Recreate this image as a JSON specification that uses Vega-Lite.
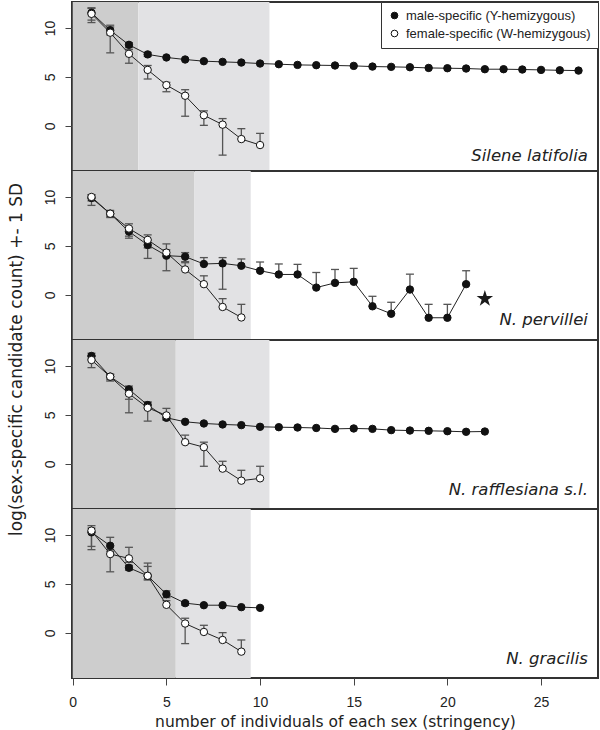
{
  "$schema": "https://vega.github.io/schema/vega-lite/v6.json",
  "padding": {"left": 5, "top": 0, "right": 0, "bottom": 0},
  "bounds": "flush",
  "spacing": 0,
  "config": {
    "view": {"stroke": "#333", "strokeWidth": 2},
    "axis": {"domain": false, "grid": false, "tickSize": 7, "tickColor": "#444", "labelFont": "Liberation Sans", "labelFontSize": 14, "labelColor": "#222", "titleFont": "DejaVu Sans", "titleFontSize": 15.5, "titleFontWeight": "normal", "titleColor": "#222"}
  },
  "resolve": {"legend": {"fill": "independent"}, "scale": {"fill": "independent"}},
  "datasets": {
    "shade": [
      {"p": 1, "zone": "dark", "x0": 0, "x1": 3.5}, {"p": 1, "zone": "light", "x0": 3.5, "x1": 10.5},
      {"p": 2, "zone": "dark", "x0": 0, "x1": 6.5}, {"p": 2, "zone": "light", "x0": 6.5, "x1": 9.5},
      {"p": 3, "zone": "dark", "x0": 0, "x1": 5.5}, {"p": 3, "zone": "light", "x0": 5.5, "x1": 10.5},
      {"p": 4, "zone": "dark", "x0": 0, "x1": 5.5}, {"p": 4, "zone": "light", "x0": 5.5, "x1": 9.5}
    ],
    "labels": [
      {"p": 1, "label": "Silene latifolia", "x": 27.5, "y": -3.6},
      {"p": 2, "label": "N. pervillei", "x": 27.5, "y": -3.1},
      {"p": 3, "label": "N. rafflesiana s.l.", "x": 27.5, "y": -3.15},
      {"p": 4, "label": "N. gracilis", "x": 27.5, "y": -3.2}
    ],
    "star": [{"p": 2, "x": 22, "y": -0.38}],
    "pts": [
      {"p": 1, "sex": "M", "x": 1, "y": 11.55, "hi": 12.0, "lo": 10.8},
      {"p": 1, "sex": "M", "x": 2, "y": 9.76, "hi": 10.1, "lo": 9.3},
      {"p": 1, "sex": "M", "x": 3, "y": 8.28, "hi": 8.5, "lo": 8.0},
      {"p": 1, "sex": "M", "x": 4, "y": 7.3, "hi": 7.5, "lo": 7.1},
      {"p": 1, "sex": "M", "x": 5, "y": 6.99, "hi": null, "lo": null},
      {"p": 1, "sex": "M", "x": 6, "y": 6.78, "hi": null, "lo": null},
      {"p": 1, "sex": "M", "x": 7, "y": 6.61, "hi": null, "lo": null},
      {"p": 1, "sex": "M", "x": 8, "y": 6.54, "hi": null, "lo": null},
      {"p": 1, "sex": "M", "x": 9, "y": 6.47, "hi": null, "lo": null},
      {"p": 1, "sex": "M", "x": 10, "y": 6.37, "hi": null, "lo": null},
      {"p": 1, "sex": "M", "x": 11, "y": 6.3, "hi": null, "lo": null},
      {"p": 1, "sex": "M", "x": 12, "y": 6.23, "hi": null, "lo": null},
      {"p": 1, "sex": "M", "x": 13, "y": 6.2, "hi": null, "lo": null},
      {"p": 1, "sex": "M", "x": 14, "y": 6.17, "hi": null, "lo": null},
      {"p": 1, "sex": "M", "x": 15, "y": 6.13, "hi": null, "lo": null},
      {"p": 1, "sex": "M", "x": 16, "y": 6.06, "hi": null, "lo": null},
      {"p": 1, "sex": "M", "x": 17, "y": 6.03, "hi": null, "lo": null},
      {"p": 1, "sex": "M", "x": 18, "y": 5.99, "hi": null, "lo": null},
      {"p": 1, "sex": "M", "x": 19, "y": 5.92, "hi": null, "lo": null},
      {"p": 1, "sex": "M", "x": 20, "y": 5.89, "hi": null, "lo": null},
      {"p": 1, "sex": "M", "x": 21, "y": 5.86, "hi": null, "lo": null},
      {"p": 1, "sex": "M", "x": 22, "y": 5.79, "hi": null, "lo": null},
      {"p": 1, "sex": "M", "x": 23, "y": 5.79, "hi": null, "lo": null},
      {"p": 1, "sex": "M", "x": 24, "y": 5.76, "hi": null, "lo": null},
      {"p": 1, "sex": "M", "x": 25, "y": 5.72, "hi": null, "lo": null},
      {"p": 1, "sex": "M", "x": 26, "y": 5.68, "hi": null, "lo": null},
      {"p": 1, "sex": "M", "x": 27, "y": 5.65, "hi": null, "lo": null},
      {"p": 1, "sex": "F", "x": 1, "y": 11.44, "hi": 12.06, "lo": 10.55},
      {"p": 1, "sex": "F", "x": 2, "y": 9.52, "hi": 10.28, "lo": 7.46},
      {"p": 1, "sex": "F", "x": 3, "y": 7.36, "hi": 7.8, "lo": 6.4},
      {"p": 1, "sex": "F", "x": 4, "y": 5.72, "hi": 6.17, "lo": 4.79},
      {"p": 1, "sex": "F", "x": 5, "y": 4.17, "hi": 4.45, "lo": 3.49},
      {"p": 1, "sex": "F", "x": 6, "y": 3.08, "hi": 3.7, "lo": 0.99},
      {"p": 1, "sex": "F", "x": 7, "y": 1.09, "hi": 1.54, "lo": 0.06},
      {"p": 1, "sex": "F", "x": 8, "y": 0.13, "hi": 0.75, "lo": -2.98},
      {"p": 1, "sex": "F", "x": 9, "y": -1.34, "hi": -0.28, "lo": null},
      {"p": 1, "sex": "F", "x": 10, "y": -1.95, "hi": -0.76, "lo": null},
      {"p": 2, "sex": "M", "x": 1, "y": 9.9, "hi": 10.24, "lo": 9.14},
      {"p": 2, "sex": "M", "x": 2, "y": 8.29, "hi": 8.63, "lo": 7.9},
      {"p": 2, "sex": "M", "x": 3, "y": 6.47, "hi": 6.9, "lo": 5.79},
      {"p": 2, "sex": "M", "x": 4, "y": 5.1, "hi": 5.6, "lo": 3.73},
      {"p": 2, "sex": "M", "x": 5, "y": 4.01, "hi": 5.21, "lo": 2.47},
      {"p": 2, "sex": "M", "x": 6, "y": 3.91, "hi": 4.32, "lo": 3.4},
      {"p": 2, "sex": "M", "x": 7, "y": 3.16, "hi": 3.81, "lo": null},
      {"p": 2, "sex": "M", "x": 8, "y": 3.22, "hi": 3.81, "lo": 0.58},
      {"p": 2, "sex": "M", "x": 9, "y": 2.98, "hi": 3.67, "lo": null},
      {"p": 2, "sex": "M", "x": 10, "y": 2.47, "hi": 3.36, "lo": null},
      {"p": 2, "sex": "M", "x": 11, "y": 2.09, "hi": 3.16, "lo": null},
      {"p": 2, "sex": "M", "x": 12, "y": 2.09, "hi": 3.12, "lo": null},
      {"p": 2, "sex": "M", "x": 13, "y": 0.75, "hi": 2.29, "lo": null},
      {"p": 2, "sex": "M", "x": 14, "y": 1.23, "hi": 2.6, "lo": null},
      {"p": 2, "sex": "M", "x": 15, "y": 1.34, "hi": 2.71, "lo": null},
      {"p": 2, "sex": "M", "x": 16, "y": -1.16, "hi": -0.14, "lo": null},
      {"p": 2, "sex": "M", "x": 17, "y": -1.92, "hi": -0.75, "lo": null},
      {"p": 2, "sex": "M", "x": 18, "y": 0.55, "hi": 2.12, "lo": null},
      {"p": 2, "sex": "M", "x": 19, "y": -2.33, "hi": -0.96, "lo": null},
      {"p": 2, "sex": "M", "x": 20, "y": -2.33, "hi": -0.96, "lo": null},
      {"p": 2, "sex": "M", "x": 21, "y": 1.1, "hi": 2.47, "lo": null},
      {"p": 2, "sex": "F", "x": 1, "y": 10.0, "hi": 10.2, "lo": 9.6},
      {"p": 2, "sex": "F", "x": 2, "y": 8.29, "hi": 8.5, "lo": 8.0},
      {"p": 2, "sex": "F", "x": 3, "y": 6.78, "hi": 7.26, "lo": 6.0},
      {"p": 2, "sex": "F", "x": 4, "y": 5.62, "hi": 6.13, "lo": 4.8},
      {"p": 2, "sex": "F", "x": 5, "y": 4.32, "hi": 4.6, "lo": 3.9},
      {"p": 2, "sex": "F", "x": 6, "y": 2.6, "hi": 3.29, "lo": null},
      {"p": 2, "sex": "F", "x": 7, "y": 1.1, "hi": 1.95, "lo": null},
      {"p": 2, "sex": "F", "x": 8, "y": -1.23, "hi": -0.38, "lo": null},
      {"p": 2, "sex": "F", "x": 9, "y": -2.3, "hi": -0.96, "lo": null},
      {"p": 3, "sex": "M", "x": 1, "y": 11.02, "hi": 11.3, "lo": 10.7},
      {"p": 3, "sex": "M", "x": 2, "y": 8.91, "hi": 9.15, "lo": 8.6},
      {"p": 3, "sex": "M", "x": 3, "y": 7.61, "hi": 7.95, "lo": 6.6},
      {"p": 3, "sex": "M", "x": 4, "y": 6.01, "hi": 6.31, "lo": 5.7},
      {"p": 3, "sex": "M", "x": 5, "y": 4.71, "hi": 5.0, "lo": 4.5},
      {"p": 3, "sex": "M", "x": 6, "y": 4.3, "hi": null, "lo": null},
      {"p": 3, "sex": "M", "x": 7, "y": 4.13, "hi": null, "lo": null},
      {"p": 3, "sex": "M", "x": 8, "y": 4.03, "hi": null, "lo": null},
      {"p": 3, "sex": "M", "x": 9, "y": 3.96, "hi": null, "lo": null},
      {"p": 3, "sex": "M", "x": 10, "y": 3.79, "hi": null, "lo": null},
      {"p": 3, "sex": "M", "x": 11, "y": 3.75, "hi": null, "lo": null},
      {"p": 3, "sex": "M", "x": 12, "y": 3.72, "hi": null, "lo": null},
      {"p": 3, "sex": "M", "x": 13, "y": 3.67, "hi": null, "lo": null},
      {"p": 3, "sex": "M", "x": 14, "y": 3.58, "hi": null, "lo": null},
      {"p": 3, "sex": "M", "x": 15, "y": 3.62, "hi": null, "lo": null},
      {"p": 3, "sex": "M", "x": 16, "y": 3.58, "hi": null, "lo": null},
      {"p": 3, "sex": "M", "x": 17, "y": 3.45, "hi": null, "lo": null},
      {"p": 3, "sex": "M", "x": 18, "y": 3.41, "hi": null, "lo": null},
      {"p": 3, "sex": "M", "x": 19, "y": 3.38, "hi": null, "lo": null},
      {"p": 3, "sex": "M", "x": 20, "y": 3.34, "hi": null, "lo": null},
      {"p": 3, "sex": "M", "x": 21, "y": 3.28, "hi": null, "lo": null},
      {"p": 3, "sex": "M", "x": 22, "y": 3.31, "hi": null, "lo": null},
      {"p": 3, "sex": "F", "x": 1, "y": 10.61, "hi": 11.0, "lo": 9.83},
      {"p": 3, "sex": "F", "x": 2, "y": 8.91, "hi": 9.15, "lo": 8.46},
      {"p": 3, "sex": "F", "x": 3, "y": 7.17, "hi": 7.5, "lo": 5.22},
      {"p": 3, "sex": "F", "x": 4, "y": 5.73, "hi": 6.31, "lo": 4.37},
      {"p": 3, "sex": "F", "x": 5, "y": 4.95, "hi": 5.67, "lo": 4.5},
      {"p": 3, "sex": "F", "x": 6, "y": 2.22, "hi": 2.94, "lo": null},
      {"p": 3, "sex": "F", "x": 7, "y": 1.71, "hi": 2.22, "lo": -0.24},
      {"p": 3, "sex": "F", "x": 8, "y": -0.48, "hi": 0.27, "lo": null},
      {"p": 3, "sex": "F", "x": 9, "y": -1.71, "hi": -0.65, "lo": null},
      {"p": 3, "sex": "F", "x": 10, "y": -1.47, "hi": -0.24, "lo": null},
      {"p": 4, "sex": "M", "x": 1, "y": 10.27, "hi": 10.7, "lo": 8.5},
      {"p": 4, "sex": "M", "x": 2, "y": 8.9, "hi": 9.76, "lo": 8.3},
      {"p": 4, "sex": "M", "x": 3, "y": 6.65, "hi": 6.9, "lo": 6.4},
      {"p": 4, "sex": "M", "x": 4, "y": 5.83, "hi": 6.79, "lo": 5.5},
      {"p": 4, "sex": "M", "x": 5, "y": 3.96, "hi": 4.3, "lo": 3.6},
      {"p": 4, "sex": "M", "x": 6, "y": 3.04, "hi": 3.2, "lo": 2.83},
      {"p": 4, "sex": "M", "x": 7, "y": 2.83, "hi": null, "lo": null},
      {"p": 4, "sex": "M", "x": 8, "y": 2.83, "hi": null, "lo": null},
      {"p": 4, "sex": "M", "x": 9, "y": 2.63, "hi": null, "lo": null},
      {"p": 4, "sex": "M", "x": 10, "y": 2.56, "hi": null, "lo": null},
      {"p": 4, "sex": "F", "x": 1, "y": 10.44, "hi": 10.95, "lo": 8.83},
      {"p": 4, "sex": "F", "x": 2, "y": 8.05, "hi": 8.5, "lo": 6.24},
      {"p": 4, "sex": "F", "x": 3, "y": 7.61, "hi": 8.74, "lo": 7.2},
      {"p": 4, "sex": "F", "x": 4, "y": 5.83, "hi": 7.13, "lo": 5.4},
      {"p": 4, "sex": "F", "x": 5, "y": 2.87, "hi": 3.3, "lo": null},
      {"p": 4, "sex": "F", "x": 6, "y": 0.96, "hi": 1.5, "lo": -1.09},
      {"p": 4, "sex": "F", "x": 7, "y": 0.1, "hi": 0.78, "lo": null},
      {"p": 4, "sex": "F", "x": 8, "y": -0.72, "hi": 0.03, "lo": null},
      {"p": 4, "sex": "F", "x": 9, "y": -1.91, "hi": -0.72, "lo": null}
    ]
  },
  "vconcat": [
    {
      "width": 526, "height": 169,
      "layer": [
        {"data": {"name": "shade"}, "transform": [{"filter": "datum.p == 1 && datum.zone == 'dark'"}], "mark": {"type": "rect", "color": "#cdcdcd"},
         "encoding": {"x": {"field": "x0", "type": "quantitative", "scale": {"domain": [-0.04, 28.04], "nice": false, "zero": false}, "axis": null}, "x2": {"field": "x1"}}},
        {"data": {"name": "shade"}, "transform": [{"filter": "datum.p == 1 && datum.zone == 'light'"}], "mark": {"type": "rect", "color": "#e2e2e4"},
         "encoding": {"x": {"field": "x0", "type": "quantitative"}, "x2": {"field": "x1"}}},
        {"data": {"name": "pts"}, "transform": [{"filter": "datum.p == 1 && isValid(datum.hi)"}], "mark": {"type": "rule", "color": "#555", "strokeWidth": 1.3},
         "encoding": {"x": {"field": "x", "type": "quantitative"}, "y": {"field": "y", "type": "quantitative", "scale": {"domain": [-4.6, 12.65], "nice": false, "zero": false}, "axis": {"values": [0, 5, 10], "labelAngle": 270, "labelAlign": "center", "labelBaseline": "alphabetic", "labelPadding": 11, "title": null}}, "y2": {"field": "hi"}}},
        {"data": {"name": "pts"}, "transform": [{"filter": "datum.p == 1 && isValid(datum.lo)"}], "mark": {"type": "rule", "color": "#555", "strokeWidth": 1.3},
         "encoding": {"x": {"field": "x", "type": "quantitative"}, "y": {"field": "lo", "type": "quantitative"}, "y2": {"field": "y"}}},
        {"data": {"name": "pts"}, "transform": [{"filter": "datum.p == 1 && isValid(datum.hi)"}], "mark": {"type": "tick", "orient": "horizontal", "size": 8, "thickness": 1.3, "color": "#555", "opacity": 1},
         "encoding": {"x": {"field": "x", "type": "quantitative"}, "y": {"field": "hi", "type": "quantitative"}}},
        {"data": {"name": "pts"}, "transform": [{"filter": "datum.p == 1 && isValid(datum.lo)"}], "mark": {"type": "tick", "orient": "horizontal", "size": 8, "thickness": 1.3, "color": "#555", "opacity": 1},
         "encoding": {"x": {"field": "x", "type": "quantitative"}, "y": {"field": "lo", "type": "quantitative"}}},
        {"data": {"name": "pts"}, "transform": [{"filter": "datum.p == 1"}], "mark": {"type": "line", "color": "#222", "strokeWidth": 1},
         "encoding": {"x": {"field": "x", "type": "quantitative"}, "y": {"field": "y", "type": "quantitative"}, "detail": {"field": "sex"}}},
        {"data": {"name": "pts"}, "transform": [{"filter": "datum.p == 1"}], "mark": {"type": "circle", "size": 55, "stroke": "#111", "strokeWidth": 1, "opacity": 1},
         "encoding": {"x": {"field": "x", "type": "quantitative"}, "y": {"field": "y", "type": "quantitative"},
           "fill": {"field": "sex", "type": "nominal", "scale": {"domain": ["M", "F"], "range": ["#111111", "#ffffff"]},
             "legend": {"orient": "top-right", "title": null, "offset": 0, "padding": 7, "strokeColor": "#333", "fillColor": "#ffffff", "cornerRadius": 0, "rowPadding": 4, "symbolType": "circle", "symbolSize": 45, "symbolStrokeColor": "#111", "symbolStrokeWidth": 1, "labelFont": "Liberation Sans", "labelFontSize": 13, "labelColor": "#222", "labelOffset": 5, "labelLimit": 300,
               "labelExpr": "datum.label == 'M' ? 'male-specific (Y-hemizygous)' : 'female-specific (W-hemizygous)'"}}}},
        {"data": {"name": "labels"}, "transform": [{"filter": "datum.p == 1"}], "mark": {"type": "text", "font": "DejaVu Sans", "fontStyle": "italic", "fontSize": 16.5, "align": "right", "baseline": "alphabetic", "color": "#222"},
         "encoding": {"x": {"field": "x", "type": "quantitative"}, "y": {"field": "y", "type": "quantitative"}, "text": {"field": "label"}}}
      ]
    },
    {
      "width": 526, "height": 169,
      "layer": [
        {"data": {"name": "shade"}, "transform": [{"filter": "datum.p == 2 && datum.zone == 'dark'"}], "mark": {"type": "rect", "color": "#cdcdcd"},
         "encoding": {"x": {"field": "x0", "type": "quantitative", "scale": {"domain": [-0.04, 28.04], "nice": false, "zero": false}, "axis": null}, "x2": {"field": "x1"}}},
        {"data": {"name": "shade"}, "transform": [{"filter": "datum.p == 2 && datum.zone == 'light'"}], "mark": {"type": "rect", "color": "#e2e2e4"},
         "encoding": {"x": {"field": "x0", "type": "quantitative"}, "x2": {"field": "x1"}}},
        {"data": {"name": "pts"}, "transform": [{"filter": "datum.p == 2 && isValid(datum.hi)"}], "mark": {"type": "rule", "color": "#555", "strokeWidth": 1.3},
         "encoding": {"x": {"field": "x", "type": "quantitative"}, "y": {"field": "y", "type": "quantitative", "scale": {"domain": [-4.6, 12.65], "nice": false, "zero": false}, "axis": {"values": [0, 5, 10], "labelAngle": 270, "labelAlign": "center", "labelBaseline": "alphabetic", "labelPadding": 11, "title": "log(sex-specific candidate count) +- 1 SD", "titleFontSize": 17, "titleAngle": 270, "titleAlign": "center", "titleBaseline": "alphabetic", "titleX": -51, "titleY": 188}}, "y2": {"field": "hi"}}},
        {"data": {"name": "pts"}, "transform": [{"filter": "datum.p == 2 && isValid(datum.lo)"}], "mark": {"type": "rule", "color": "#555", "strokeWidth": 1.3},
         "encoding": {"x": {"field": "x", "type": "quantitative"}, "y": {"field": "lo", "type": "quantitative"}, "y2": {"field": "y"}}},
        {"data": {"name": "pts"}, "transform": [{"filter": "datum.p == 2 && isValid(datum.hi)"}], "mark": {"type": "tick", "orient": "horizontal", "size": 8, "thickness": 1.3, "color": "#555", "opacity": 1},
         "encoding": {"x": {"field": "x", "type": "quantitative"}, "y": {"field": "hi", "type": "quantitative"}}},
        {"data": {"name": "pts"}, "transform": [{"filter": "datum.p == 2 && isValid(datum.lo)"}], "mark": {"type": "tick", "orient": "horizontal", "size": 8, "thickness": 1.3, "color": "#555", "opacity": 1},
         "encoding": {"x": {"field": "x", "type": "quantitative"}, "y": {"field": "lo", "type": "quantitative"}}},
        {"data": {"name": "pts"}, "transform": [{"filter": "datum.p == 2"}], "mark": {"type": "line", "color": "#222", "strokeWidth": 1},
         "encoding": {"x": {"field": "x", "type": "quantitative"}, "y": {"field": "y", "type": "quantitative"}, "detail": {"field": "sex"}}},
        {"data": {"name": "pts"}, "transform": [{"filter": "datum.p == 2"}], "mark": {"type": "circle", "size": 55, "stroke": "#111", "strokeWidth": 1, "opacity": 1},
         "encoding": {"x": {"field": "x", "type": "quantitative"}, "y": {"field": "y", "type": "quantitative"},
           "fill": {"field": "sex", "type": "nominal", "scale": {"domain": ["M", "F"], "range": ["#111111", "#ffffff"]}, "legend": null}}},
        {"data": {"name": "star"}, "mark": {"type": "point", "filled": true, "shape": "M0,-1L0.2245,-0.309L0.9511,-0.309L0.3633,0.118L0.5878,0.809L0,0.382L-0.5878,0.809L-0.3633,0.118L-0.9511,-0.309L-0.2245,-0.309Z", "size": 300, "color": "#1a1a1a", "opacity": 1},
         "encoding": {"x": {"field": "x", "type": "quantitative"}, "y": {"field": "y", "type": "quantitative"}}},
        {"data": {"name": "labels"}, "transform": [{"filter": "datum.p == 2"}], "mark": {"type": "text", "font": "DejaVu Sans", "fontStyle": "italic", "fontSize": 16.5, "align": "right", "baseline": "alphabetic", "color": "#222"},
         "encoding": {"x": {"field": "x", "type": "quantitative"}, "y": {"field": "y", "type": "quantitative"}, "text": {"field": "label"}}}
      ]
    },
    {
      "width": 526, "height": 169,
      "layer": [
        {"data": {"name": "shade"}, "transform": [{"filter": "datum.p == 3 && datum.zone == 'dark'"}], "mark": {"type": "rect", "color": "#cdcdcd"},
         "encoding": {"x": {"field": "x0", "type": "quantitative", "scale": {"domain": [-0.04, 28.04], "nice": false, "zero": false}, "axis": null}, "x2": {"field": "x1"}}},
        {"data": {"name": "shade"}, "transform": [{"filter": "datum.p == 3 && datum.zone == 'light'"}], "mark": {"type": "rect", "color": "#e2e2e4"},
         "encoding": {"x": {"field": "x0", "type": "quantitative"}, "x2": {"field": "x1"}}},
        {"data": {"name": "pts"}, "transform": [{"filter": "datum.p == 3 && isValid(datum.hi)"}], "mark": {"type": "rule", "color": "#555", "strokeWidth": 1.3},
         "encoding": {"x": {"field": "x", "type": "quantitative"}, "y": {"field": "y", "type": "quantitative", "scale": {"domain": [-4.6, 12.65], "nice": false, "zero": false}, "axis": {"values": [0, 5, 10], "labelAngle": 270, "labelAlign": "center", "labelBaseline": "alphabetic", "labelPadding": 11, "title": null}}, "y2": {"field": "hi"}}},
        {"data": {"name": "pts"}, "transform": [{"filter": "datum.p == 3 && isValid(datum.lo)"}], "mark": {"type": "rule", "color": "#555", "strokeWidth": 1.3},
         "encoding": {"x": {"field": "x", "type": "quantitative"}, "y": {"field": "lo", "type": "quantitative"}, "y2": {"field": "y"}}},
        {"data": {"name": "pts"}, "transform": [{"filter": "datum.p == 3 && isValid(datum.hi)"}], "mark": {"type": "tick", "orient": "horizontal", "size": 8, "thickness": 1.3, "color": "#555", "opacity": 1},
         "encoding": {"x": {"field": "x", "type": "quantitative"}, "y": {"field": "hi", "type": "quantitative"}}},
        {"data": {"name": "pts"}, "transform": [{"filter": "datum.p == 3 && isValid(datum.lo)"}], "mark": {"type": "tick", "orient": "horizontal", "size": 8, "thickness": 1.3, "color": "#555", "opacity": 1},
         "encoding": {"x": {"field": "x", "type": "quantitative"}, "y": {"field": "lo", "type": "quantitative"}}},
        {"data": {"name": "pts"}, "transform": [{"filter": "datum.p == 3"}], "mark": {"type": "line", "color": "#222", "strokeWidth": 1},
         "encoding": {"x": {"field": "x", "type": "quantitative"}, "y": {"field": "y", "type": "quantitative"}, "detail": {"field": "sex"}}},
        {"data": {"name": "pts"}, "transform": [{"filter": "datum.p == 3"}], "mark": {"type": "circle", "size": 55, "stroke": "#111", "strokeWidth": 1, "opacity": 1},
         "encoding": {"x": {"field": "x", "type": "quantitative"}, "y": {"field": "y", "type": "quantitative"},
           "fill": {"field": "sex", "type": "nominal", "scale": {"domain": ["M", "F"], "range": ["#111111", "#ffffff"]}, "legend": null}}},
        {"data": {"name": "labels"}, "transform": [{"filter": "datum.p == 3"}], "mark": {"type": "text", "font": "DejaVu Sans", "fontStyle": "italic", "fontSize": 16.5, "align": "right", "baseline": "alphabetic", "color": "#222"},
         "encoding": {"x": {"field": "x", "type": "quantitative"}, "y": {"field": "y", "type": "quantitative"}, "text": {"field": "label"}}}
      ]
    },
    {
      "width": 526, "height": 169,
      "layer": [
        {"data": {"name": "shade"}, "transform": [{"filter": "datum.p == 4 && datum.zone == 'dark'"}], "mark": {"type": "rect", "color": "#cdcdcd"},
         "encoding": {"x": {"field": "x0", "type": "quantitative", "scale": {"domain": [-0.04, 28.04], "nice": false, "zero": false}, "axis": {"values": [0, 5, 10, 15, 20, 25], "title": "number of individuals of each sex (stringency)", "labelPadding": 10, "titlePadding": 5, "labelFlush": false}}, "x2": {"field": "x1"}}},
        {"data": {"name": "shade"}, "transform": [{"filter": "datum.p == 4 && datum.zone == 'light'"}], "mark": {"type": "rect", "color": "#e2e2e4"},
         "encoding": {"x": {"field": "x0", "type": "quantitative"}, "x2": {"field": "x1"}}},
        {"data": {"name": "pts"}, "transform": [{"filter": "datum.p == 4 && isValid(datum.hi)"}], "mark": {"type": "rule", "color": "#555", "strokeWidth": 1.3},
         "encoding": {"x": {"field": "x", "type": "quantitative"}, "y": {"field": "y", "type": "quantitative", "scale": {"domain": [-4.6, 12.65], "nice": false, "zero": false}, "axis": {"values": [0, 5, 10], "labelAngle": 270, "labelAlign": "center", "labelBaseline": "alphabetic", "labelPadding": 11, "title": null}}, "y2": {"field": "hi"}}},
        {"data": {"name": "pts"}, "transform": [{"filter": "datum.p == 4 && isValid(datum.lo)"}], "mark": {"type": "rule", "color": "#555", "strokeWidth": 1.3},
         "encoding": {"x": {"field": "x", "type": "quantitative"}, "y": {"field": "lo", "type": "quantitative"}, "y2": {"field": "y"}}},
        {"data": {"name": "pts"}, "transform": [{"filter": "datum.p == 4 && isValid(datum.hi)"}], "mark": {"type": "tick", "orient": "horizontal", "size": 8, "thickness": 1.3, "color": "#555", "opacity": 1},
         "encoding": {"x": {"field": "x", "type": "quantitative"}, "y": {"field": "hi", "type": "quantitative"}}},
        {"data": {"name": "pts"}, "transform": [{"filter": "datum.p == 4 && isValid(datum.lo)"}], "mark": {"type": "tick", "orient": "horizontal", "size": 8, "thickness": 1.3, "color": "#555", "opacity": 1},
         "encoding": {"x": {"field": "x", "type": "quantitative"}, "y": {"field": "lo", "type": "quantitative"}}},
        {"data": {"name": "pts"}, "transform": [{"filter": "datum.p == 4"}], "mark": {"type": "line", "color": "#222", "strokeWidth": 1},
         "encoding": {"x": {"field": "x", "type": "quantitative"}, "y": {"field": "y", "type": "quantitative"}, "detail": {"field": "sex"}}},
        {"data": {"name": "pts"}, "transform": [{"filter": "datum.p == 4"}], "mark": {"type": "circle", "size": 55, "stroke": "#111", "strokeWidth": 1, "opacity": 1},
         "encoding": {"x": {"field": "x", "type": "quantitative"}, "y": {"field": "y", "type": "quantitative"},
           "fill": {"field": "sex", "type": "nominal", "scale": {"domain": ["M", "F"], "range": ["#111111", "#ffffff"]}, "legend": null}}},
        {"data": {"name": "labels"}, "transform": [{"filter": "datum.p == 4"}], "mark": {"type": "text", "font": "DejaVu Sans", "fontStyle": "italic", "fontSize": 16.5, "align": "right", "baseline": "alphabetic", "color": "#222"},
         "encoding": {"x": {"field": "x", "type": "quantitative"}, "y": {"field": "y", "type": "quantitative"}, "text": {"field": "label"}}}
      ]
    }
  ]
}
